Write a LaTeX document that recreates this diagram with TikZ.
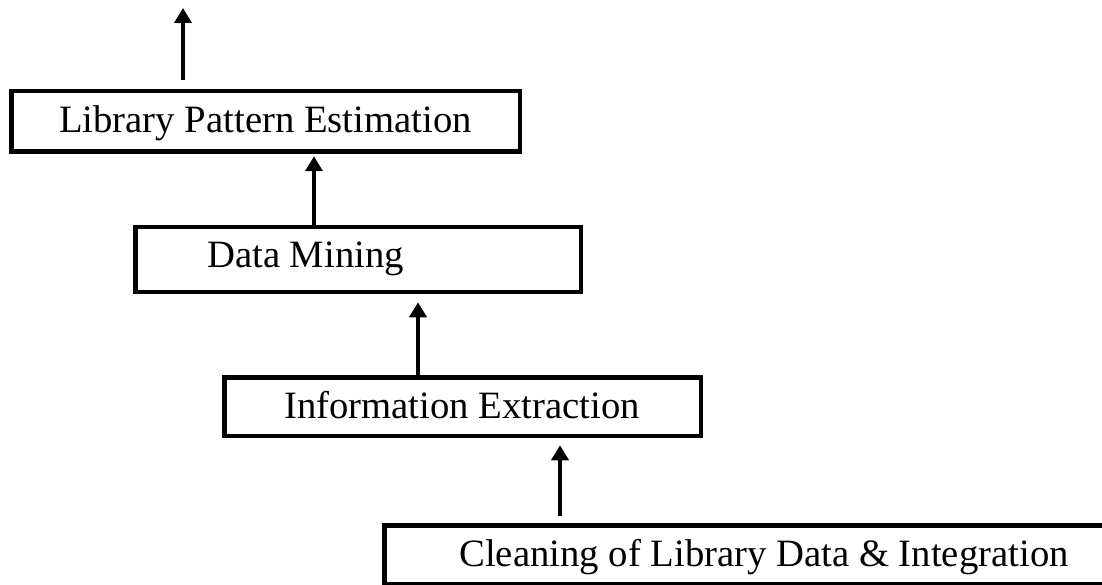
\documentclass[tikz,border=0pt]{standalone}
\usepackage{fontspec}
\setmainfont{Liberation Serif}
\usetikzlibrary{arrows.meta}
\begin{document}
\begin{tikzpicture}[x=1pt,y=-1pt,
  box/.style={draw=black, line width=4.5pt, rectangle, inner sep=0pt},
  lbl/.style={font=\fontsize{38.7}{46}\selectfont, inner sep=0pt, anchor=base},
  arr/.style={draw=black, line width=4pt, -{Triangle[length=15pt,width=17pt]}}]
\useasboundingbox (0,0) rectangle (1102,585);
\clip (0,0) rectangle (1102,585);
% boxes
\node[box, minimum width=508.5pt, minimum height=60.5pt] (lpe) at (265.5,121.5) {};
\node[box, minimum width=445.5pt, minimum height=64.5pt] (dm) at (358,259.5) {};
\node[box, minimum width=476.5pt, minimum height=58.5pt] (ie) at (462.5,406.5) {};
\node[box, minimum width=763.5pt, minimum height=58.5pt] (cl) at (766,554.5) {};
% labels
\node[lbl] (lpet) at (265.5,133) {Library Pattern Estimation};
\node[lbl, anchor=base west] (dmt) at (207,268) {Data Mining};
\node[lbl] (iet) at (462,418) {Information Extraction};
\node[lbl] (clt) at (764,566) {Cleaning of Library Data \& Integration};
% connectors
\coordinate (out) at (183,8);
\coordinate (a2) at (314,0);
\coordinate (a3) at (418,0);
\coordinate (a4) at (560,0);
\draw[arr, shorten <=8.5pt] (out |- lpe.north) -- (out);
\draw[arr, shorten >=2.25pt] (a2 |- dm.north) -- (a2 |- lpe.south);
\draw[arr, shorten >=8.25pt] (a3 |- ie.north) -- (a3 |- dm.south);
\draw[arr, shorten <=7.25pt, shorten >=7.25pt] (a4 |- cl.north) -- (a4 |- ie.south);
\end{tikzpicture}
\end{document}
